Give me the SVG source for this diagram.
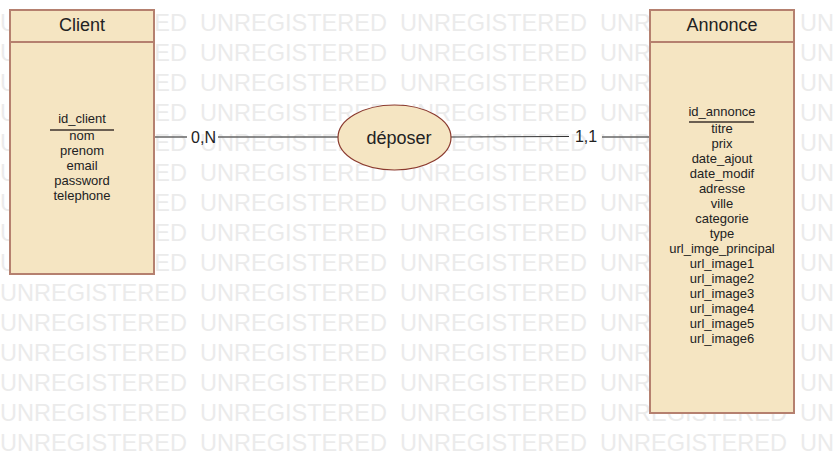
<svg xmlns="http://www.w3.org/2000/svg" xmlns:xlink="http://www.w3.org/1999/xlink" width="834" height="453" viewBox="0 0 834 453">
<style>
.wm{font-family:"Liberation Sans",Arial,sans-serif;font-size:24.5px;fill:#ebebeb}
.box{fill:#f5e5c2;stroke:#b5806f;stroke-width:2}
.title{font-family:"Liberation Sans",Arial,sans-serif;font-size:18px;fill:#222;text-anchor:middle}
.attr{font-family:"Liberation Sans",Arial,sans-serif;font-size:13px;fill:#222;text-anchor:middle}
.card{font-family:"Liberation Sans",Arial,sans-serif;font-size:16px;fill:#222;text-anchor:middle}
.ul{stroke:#6b5f52;stroke-width:2}
.conn{stroke:#666;stroke-width:1.5;fill:none}
</style>
<defs>
<g id="wmrow">
<text class="wm" x="0" y="0" textLength="187" lengthAdjust="spacingAndGlyphs">UNREGISTERED</text>
<text class="wm" x="200" y="0" textLength="187" lengthAdjust="spacingAndGlyphs">UNREGISTERED</text>
<text class="wm" x="400" y="0" textLength="187" lengthAdjust="spacingAndGlyphs">UNREGISTERED</text>
<text class="wm" x="600" y="0" textLength="187" lengthAdjust="spacingAndGlyphs">UNREGISTERED</text>
<text class="wm" x="800" y="0" textLength="187" lengthAdjust="spacingAndGlyphs">UNREGISTERED</text>
</g>
</defs>
<rect width="834" height="453" fill="#ffffff"/>
<g id="watermark">
<use xlink:href="#wmrow" y="31"/>
<use xlink:href="#wmrow" y="61"/>
<use xlink:href="#wmrow" y="91"/>
<use xlink:href="#wmrow" y="121"/>
<use xlink:href="#wmrow" y="151"/>
<use xlink:href="#wmrow" y="181"/>
<use xlink:href="#wmrow" y="211"/>
<use xlink:href="#wmrow" y="241"/>
<use xlink:href="#wmrow" y="271"/>
<use xlink:href="#wmrow" y="301"/>
<use xlink:href="#wmrow" y="331"/>
<use xlink:href="#wmrow" y="361"/>
<use xlink:href="#wmrow" y="391"/>
<use xlink:href="#wmrow" y="421"/>
<use xlink:href="#wmrow" y="451"/>
</g>
<g id="connectors">
<line class="conn" x1="154" y1="137" x2="187" y2="137"/>
<line class="conn" x1="218" y1="137" x2="338" y2="137"/>
<line x1="451" y1="137" x2="569" y2="136.5" stroke="#333" stroke-width="1"/>
<line class="conn" x1="602" y1="137" x2="649" y2="137"/>
<text class="card" x="203.5" y="143">0,N</text>
<text class="card" x="586" y="142">1,1</text>
</g>
<g id="client">
<rect class="box" x="10" y="10" width="144" height="264"/>
<line x1="10" y1="42" x2="154" y2="42" stroke="#b5806f" stroke-width="2"/>
<text class="title" x="82" y="31">Client</text>
<text class="attr" x="82" y="123">id_client</text>
<line class="ul" x1="50" y1="130" x2="114" y2="130"/>
<text class="attr" x="82" y="140">nom</text>
<text class="attr" x="82" y="155">prenom</text>
<text class="attr" x="82" y="170">email</text>
<text class="attr" x="82" y="185">password</text>
<text class="attr" x="82" y="200">telephone</text>
</g>
<g id="deposer">
<ellipse cx="394.5" cy="137.5" rx="56.5" ry="32.5" fill="#f5e5c2" stroke="#8b3a2e" stroke-width="1.2"/>
<text class="title" x="399" y="143.5">déposer</text>
</g>
<g id="annonce">
<rect class="box" x="650" y="10" width="144" height="403"/>
<line x1="650" y1="42" x2="794" y2="42" stroke="#b5806f" stroke-width="2"/>
<text class="title" x="722" y="31">Annonce</text>
<text class="attr" x="722" y="116">id_annonce</text>
<line class="ul" x1="689" y1="122" x2="754" y2="122"/>
<text class="attr" x="722" y="133">titre</text>
<text class="attr" x="722" y="148">prix</text>
<text class="attr" x="722" y="163">date_ajout</text>
<text class="attr" x="722" y="178">date_modif</text>
<text class="attr" x="722" y="193">adresse</text>
<text class="attr" x="722" y="208">ville</text>
<text class="attr" x="722" y="223">categorie</text>
<text class="attr" x="722" y="238">type</text>
<text class="attr" x="722" y="253">url_imge_principal</text>
<text class="attr" x="722" y="268">url_image1</text>
<text class="attr" x="722" y="283">url_image2</text>
<text class="attr" x="722" y="298">url_image3</text>
<text class="attr" x="722" y="313">url_image4</text>
<text class="attr" x="722" y="328">url_image5</text>
<text class="attr" x="722" y="343">url_image6</text>
</g>
</svg>
